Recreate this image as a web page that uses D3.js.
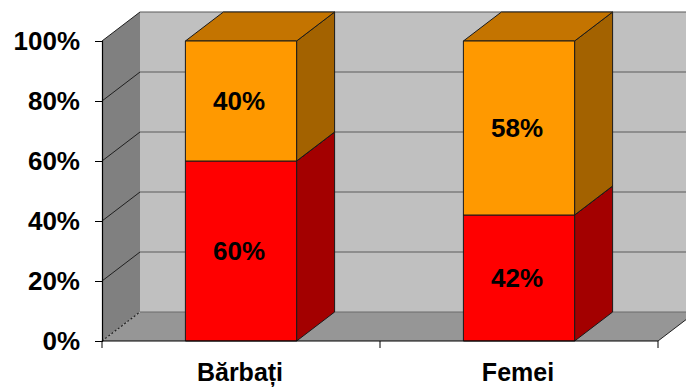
<!DOCTYPE html>
<html>
<head>
<meta charset="utf-8">
<script src="https://cdn.jsdelivr.net/npm/d3@7/dist/d3.min.js"></script>
<style>
html,body{margin:0;padding:0;background:#fff;}
svg{display:block;font-family:"Liberation Sans",Arial,sans-serif;}
</style>
</head>
<body>
<svg id="chart" width="686" height="387"></svg>
<script>
const categories = ["Bărbați", "Femei"];
const seriesLower = [0.60, 0.42];   // red
const seriesUpper = [0.40, 0.58];   // orange
const lowerLabels = ["60%", "42%"];
const upperLabels = ["40%", "58%"];
const tickValues = [0, 0.2, 0.4, 0.6, 0.8, 1.0];

const svg = d3.select("#chart");
const DX = 38, DY = -29;
const x0 = 102, x1 = 658, yBottom = 341, yTop = 41;

const x = d3.scaleBand().domain(categories).range([x0, x1]).paddingInner(0.6).paddingOuter(0.3);
const y = d3.scaleLinear().domain([0, 1]).range([yBottom, yTop]);
const step = x.step();

const poly = pts => pts.map(p => p.join(",")).join(" ");

const g = svg.append("g");
// back wall
g.append("polygon")
  .attr("points", poly([[x0+DX, y(0)+DY],[x0+DX, y(1)+DY],[x1+DX, y(1)+DY],[x1+DX, y(0)+DY]]))
  .attr("fill", "#c0c0c0");
// left wall
g.append("polygon")
  .attr("points", poly([[x0, y(0)],[x0, y(1)],[x0+DX, y(1)+DY],[x0+DX, y(0)+DY]]))
  .attr("fill", "#808080");
// floor
g.append("polygon")
  .attr("points", poly([[x0, y(0)],[x1, y(0)],[x1+DX, y(0)+DY],[x0+DX, y(0)+DY]]))
  .attr("fill", "#969696");

// gridlines
tickValues.forEach(t => {
  if (t === 0) return;
  g.append("line").attr("x1", x0).attr("y1", y(t)).attr("x2", x0+DX).attr("y2", y(t)+DY)
    .attr("stroke", "#202020").attr("stroke-width", 1);
  g.append("line").attr("x1", x0+DX).attr("y1", y(t)+DY).attr("x2", x1+DX).attr("y2", y(t)+DY)
    .attr("stroke", "#5a5a5a").attr("stroke-width", 1.2);
});
// floor back edge
g.append("line").attr("x1", x0+DX).attr("y1", y(0)+DY).attr("x2", x1+DX).attr("y2", y(0)+DY)
  .attr("stroke", "#6a6a6a").attr("stroke-width", 1.2);
// left-floor dashed edge
g.append("line").attr("x1", x0).attr("y1", y(0)).attr("x2", x0+DX).attr("y2", y(0)+DY)
  .attr("stroke", "#222").attr("stroke-width", 1.2).attr("stroke-dasharray", "2,2");
// right floor edge
g.append("line").attr("x1", x1).attr("y1", y(0)).attr("x2", x1+DX).attr("y2", y(0)+DY)
  .attr("stroke", "#222").attr("stroke-width", 1);

// bars
function box(xl, w, v0, v1, front, top, side) {
  const xr = xl + w;
  const b = svg.append("g").attr("stroke", "#1a1a1a").attr("stroke-width", 1).attr("stroke-linejoin", "round");
  b.append("polygon").attr("points", poly([[xr, y(v0)],[xr, y(v1)],[xr+DX, y(v1)+DY],[xr+DX, y(v0)+DY]])).attr("fill", side);
  b.append("polygon").attr("points", poly([[xl, y(v1)],[xr, y(v1)],[xr+DX, y(v1)+DY],[xl+DX, y(v1)+DY]])).attr("fill", top);
  b.append("rect").attr("x", xl).attr("y", y(v1)).attr("width", w).attr("height", y(v0)-y(v1)).attr("fill", front);
}
categories.forEach((c, i) => {
  const xl = x(c), w = x.bandwidth();
  box(xl, w, 0, seriesLower[i], "#ff0000", "#c00000", "#a30000");
  box(xl, w, seriesLower[i], seriesLower[i] + seriesUpper[i], "#ff9900", "#c47400", "#a36200");
});

// data labels
categories.forEach((c, i) => {
  const cx = x(c) + x.bandwidth()/2 - 2;
  svg.append("text").attr("x", cx).attr("y", (y(0)+y(seriesLower[i]))/2).attr("dy", "0.36em")
    .attr("text-anchor", "middle").attr("font-size", 26).attr("font-weight", "bold").text(lowerLabels[i]);
  svg.append("text").attr("x", cx).attr("y", (y(seriesLower[i])+y(seriesLower[i]+seriesUpper[i]))/2).attr("dy", "0.36em")
    .attr("text-anchor", "middle").attr("font-size", 26).attr("font-weight", "bold").text(upperLabels[i]);
});

// value axis
const yAxis = d3.axisLeft(y).tickValues(tickValues).tickFormat(d3.format(".0%")).tickSize(7).tickPadding(15);
const ya = svg.append("g").attr("transform", `translate(${x0},0)`).call(yAxis);
ya.select(".domain").attr("stroke", "#000").attr("stroke-width", 1.2);
ya.selectAll(".tick line").attr("stroke", "#000");
ya.selectAll("text").attr("font-size", 26).attr("font-weight", "bold").attr("fill", "#000")
  .attr("font-family", "Liberation Sans, Arial, sans-serif");

// category axis
const xa = svg.append("g").attr("transform", `translate(0,${yBottom})`);
xa.append("line").attr("x1", x0).attr("x2", x1).attr("stroke", "#000").attr("stroke-width", 1.2);
[0,1,2].forEach(k => {
  const tx = x0 + k*step;
  xa.append("line").attr("x1", tx).attr("x2", tx).attr("y1", 0).attr("y2", 7).attr("stroke", "#000");
});
categories.forEach(c => {
  xa.append("text").attr("x", x(c) + x.bandwidth()/2 - 1).attr("y", 40)
    .attr("text-anchor", "middle").attr("font-size", 25).attr("font-weight", "bold").text(c);
});
</script>
</body>
</html>
